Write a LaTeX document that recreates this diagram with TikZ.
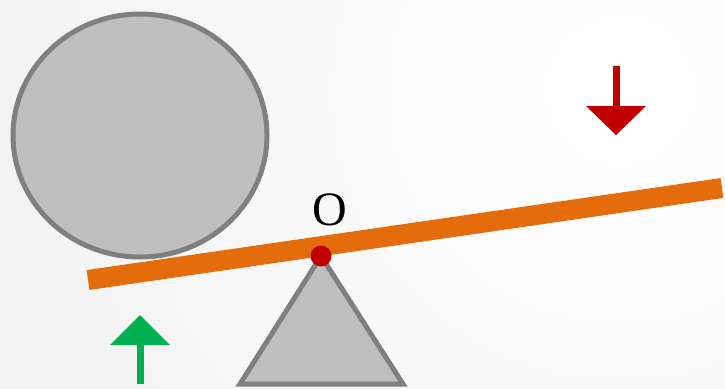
\documentclass[tikz,border=0pt]{standalone}
\usepackage{fontspec}
\setmainfont{Liberation Serif}
\definecolor{bggray}{RGB}{230,230,230}
\definecolor{objfill}{RGB}{191,191,191}
\definecolor{objline}{RGB}{128,128,128}
\definecolor{barorange}{RGB}{228,108,10}
\definecolor{darkred}{RGB}{192,0,0}
\definecolor{forcegreen}{RGB}{0,176,80}
\tikzset{
  solid object/.style={fill=objfill, draw=objline, line width=5pt, line join=miter},
  lever/.style={draw=barorange, line width=20pt},
  arrow head/.style={fill=#1, draw=none},
  arrow shaft/.style={draw=#1, line width=7pt},
}
\begin{document}
\begin{tikzpicture}[x=1pt,y=-1pt]
\useasboundingbox (0,0) rectangle (725,388);
\begin{scope}
\clip (0,0) rectangle (725,388);
\fill[bggray] (0,0) rectangle (725,388);
\shade[inner color=white, outer color=bggray] (620,90) circle (1300);
\end{scope}
% ball
\draw[solid object] (140,135.5) ellipse [x radius=127, y radius=121.5];
% fulcrum
\coordinate (pivot) at (321,256);
\coordinate (baseL) at (240,384);
\coordinate (baseR) at (403,384);
\draw[solid object] (pivot) -- (baseR) -- (baseL) -- cycle;
% lever
\coordinate (leverL) at (88,280);
\coordinate (leverR) at (722,188);
\draw[lever] (leverL) -- (leverR);
% pivot dot
\fill[darkred] (pivot) circle (10.5);
\node[font=\fontsize{48}{48}\selectfont, inner sep=0pt] (olabel) at (330,210) {O};
% red arrow (down)
\coordinate (rtop) at (616,66);
\coordinate (rbase) at (616,107);
\draw[arrow shaft=darkred] (rtop) -- (rbase);
\fill[arrow head=darkred] (586,106) -- (646,106) -- (616,135) -- cycle;
% green arrow (up)
\coordinate (gbot) at (140,384);
\coordinate (gbase) at (140,343);
\draw[arrow shaft=forcegreen] (gbot) -- (gbase);
\fill[arrow head=forcegreen] (110,345) -- (170,345) -- (140,315) -- cycle;
\end{tikzpicture}
\end{document}
